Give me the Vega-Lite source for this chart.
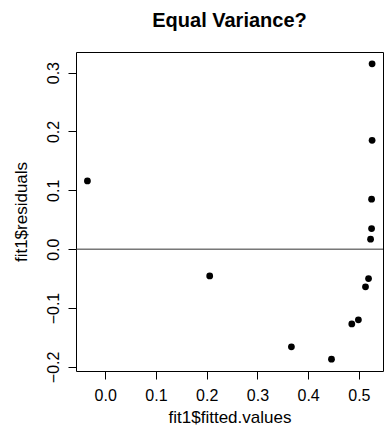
{
  "$schema": "https://vega.github.io/schema/vega-lite/v6.json",
  "width": 307,
  "height": 319,
  "autosize": {"type": "none"},
  "padding": {"left": 76, "top": 52, "right": 4, "bottom": 66},
  "background": "white",
  "config": {
    "font": "Liberation Sans",
    "view": {"stroke": "#000", "strokeWidth": 1},
    "axis": {"grid": false, "domain": false, "tickColor": "#000", "tickSize": 8, "labelColor": "#000", "titleColor": "#000", "labelFont": "Liberation Sans", "titleFont": "Liberation Sans", "labelFontSize": 16, "titleFontSize": 17, "titleFontWeight": "normal"}
  },
  "title": {"text": "Equal Variance?", "fontSize": 20, "fontWeight": "bold", "font": "Liberation Sans", "anchor": "middle", "baseline": "alphabetic", "offset": 24, "dy": 19, "color": "#000"},
  "data": {"values": [
    {"fitted": -0.035, "resid": 0.116},
    {"fitted": 0.206, "resid": -0.0455},
    {"fitted": 0.367, "resid": -0.166},
    {"fitted": 0.446, "resid": -0.187},
    {"fitted": 0.486, "resid": -0.127},
    {"fitted": 0.499, "resid": -0.120},
    {"fitted": 0.513, "resid": -0.064},
    {"fitted": 0.519, "resid": -0.050},
    {"fitted": 0.523, "resid": 0.017},
    {"fitted": 0.525, "resid": 0.035},
    {"fitted": 0.525, "resid": 0.085},
    {"fitted": 0.526, "resid": 0.185},
    {"fitted": 0.526, "resid": 0.315}
  ]},
  "layer": [
    {
      "mark": {"type": "point", "filled": true, "color": "#000", "opacity": 1, "size": 46},
      "encoding": {
        "x": {"field": "fitted", "type": "quantitative", "scale": {"domain": [-0.0575, 0.5475], "nice": false, "zero": false},
          "axis": {"title": "fit1$fitted.values", "values": [0, 0.1, 0.2, 0.3, 0.4, 0.5], "format": ".1f", "labelPadding": 8, "titleBaseline": "alphabetic", "titleY": 51}},
        "y": {"field": "resid", "type": "quantitative", "scale": {"domain": [-0.207, 0.335], "nice": false, "zero": false},
          "axis": {"title": "fit1$residuals", "values": [-0.2, -0.1, 0, 0.1, 0.2, 0.3], "format": ".1f", "labelAngle": 270, "labelAlign": "center", "labelBaseline": "alphabetic", "labelPadding": 10, "titleAngle": 270, "titleBaseline": "alphabetic", "titleX": -50, "titleY": 159.5, "titleAlign": "center"}}
      }
    },
    {
      "data": {"values": [{"h": 0}]},
      "mark": {"type": "rule", "color": "#333", "strokeWidth": 1},
      "encoding": {"y": {"field": "h", "type": "quantitative"}}
    }
  ]
}
